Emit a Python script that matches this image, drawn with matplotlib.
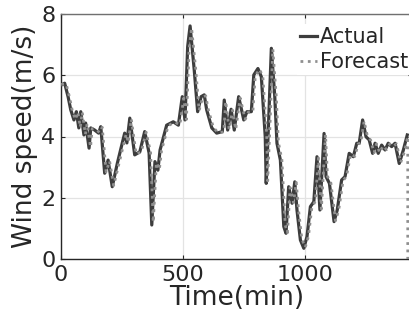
import matplotlib
matplotlib.use("Agg")
import matplotlib.pyplot as plt

# wind speed (minutes, m/s)
actual_min = [1, 15, 29, 40, 53, 63, 73, 81, 94, 101,
              115, 122, 138, 154, 163, 179, 193, 210, 231, 261,
              270, 282, 302, 323, 343, 361, 372, 385, 397, 406,
              433, 460, 481, 497, 508, 519, 529, 546, 560, 574,
              587, 597, 618, 638, 661, 669, 683, 697, 710, 728,
              749, 762, 780, 790, 807, 821, 837, 841, 851, 862,
              876, 885, 899, 913, 922, 933, 947, 958, 967, 981,
              995, 1008, 1022, 1036, 1049, 1061, 1078, 1086, 1100, 1119,
              1132, 1150, 1164, 1181, 1198, 1212, 1222, 1236, 1250, 1263,
              1277, 1287, 1300, 1314, 1328, 1341, 1355, 1369, 1386, 1403,
              1419]
actual = [5.68, 5.74, 5.30, 4.87, 4.54, 4.81, 4.28, 4.81, 4.05, 4.44,
          3.62, 4.28, 4.21, 4.11, 4.32, 2.80, 3.23, 2.36, 3.13, 4.11,
          3.79, 4.60, 3.40, 3.50, 4.16, 3.46, 1.11, 3.18, 2.90, 3.56,
          4.37, 4.48, 4.37, 5.30, 4.54, 6.93, 7.61, 6.17, 4.81, 5.30,
          5.36, 4.87, 4.28, 4.11, 4.16, 5.19, 4.21, 4.89, 4.21, 5.30,
          4.54, 4.81, 4.81, 6.01, 6.22, 5.95, 3.99, 2.47, 4.54, 6.88,
          5.30, 3.78, 3.23, 1.06, 0.84, 2.36, 1.82, 2.52, 1.60, 0.62,
          0.35, 0.73, 1.71, 1.87, 3.34, 1.60, 4.10, 2.69, 2.47, 1.22,
          1.60, 2.58, 2.69, 3.45, 3.34, 3.78, 3.78, 4.54, 3.99, 3.89,
          3.45, 3.78, 3.45, 3.72, 3.56, 3.78, 3.67, 3.78, 3.12, 3.56,
          4.05]

forecast_min = [1, 21, 35, 46, 59, 69, 79, 87, 100, 107,
                121, 128, 144, 160, 169, 185, 199, 216, 237, 267,
                276, 288, 308, 329, 349, 367, 378, 391, 403, 412,
                439, 466, 487, 503, 514, 525, 535, 552, 566, 580,
                593, 603, 624, 644, 667, 675, 689, 703, 716, 734,
                755, 768, 786, 796, 813, 827, 843, 847, 857, 868,
                882, 891, 905, 919, 928, 939, 953, 964, 973, 987,
                1001, 1014, 1028, 1042, 1055, 1067, 1084, 1092, 1106, 1125,
                1138, 1156, 1170, 1187, 1204, 1218, 1228, 1242, 1256, 1269,
                1283, 1293, 1306, 1320, 1334, 1347, 1361, 1375, 1392, 1409,
                1421, 1421]
forecast = [5.70, 5.72, 5.28, 4.85, 4.55, 4.80, 4.30, 4.79, 4.07, 4.42,
            3.65, 4.26, 4.22, 4.12, 4.30, 2.84, 3.20, 2.40, 3.10, 4.08,
            3.80, 4.57, 3.42, 3.50, 4.14, 3.48, 1.20, 3.15, 2.92, 3.54,
            4.35, 4.47, 4.38, 5.25, 4.56, 6.85, 7.55, 6.20, 4.85, 5.27,
            5.33, 4.90, 4.30, 4.12, 4.15, 5.15, 4.23, 4.86, 4.23, 5.26,
            4.56, 4.80, 4.80, 5.97, 6.20, 5.96, 4.05, 2.55, 4.50, 6.85,
            5.32, 3.80, 3.25, 1.10, 0.86, 2.33, 1.84, 2.50, 1.62, 0.65,
            0.38, 0.74, 1.69, 1.88, 3.30, 1.63, 4.06, 2.70, 2.48, 1.25,
            1.60, 2.56, 2.70, 3.43, 3.35, 3.76, 3.78, 4.50, 4.00, 3.88,
            3.47, 3.76, 3.47, 3.70, 3.57, 3.76, 3.68, 3.76, 3.15, 3.54,
            4.00, 0.0]

xticks = [0, 500, 1000]
yticks = [0, 2, 4, 6, 8]

W, H = 410, 326
fig = plt.figure(figsize=(W / 100, H / 100), dpi=100)
# right spine sits just past the image edge, as in the reference
ax = fig.add_axes([61 / W, 1 - 259 / H, (412.4 - 61) / W, (259 - 14) / H])

ax.plot(actual_min, actual, color="#3d3d3d", lw=2.3, label="Actual", zorder=3)
ax.plot(forecast_min, forecast, color="#8f8f8f", lw=2.0, ls=":", label="Forecast", zorder=4)

ax.set_xlim(0, 1440)
ax.set_ylim(0, 8)
ax.set_xticks(xticks)
ax.set_yticks(yticks)
ax.grid(True, color="#e3e3e3", lw=0.9)
ax.set_axisbelow(True)
ax.tick_params(direction="in", length=3, width=0.8, colors="#262626",
               labelsize=16, top=True, right=True, pad=4)
for s in ax.spines.values():
    s.set_color("#262626")
    s.set_linewidth(1.0)
ax.spines["top"].set_color("#707070")

ax.set_xlabel("Time(min)", fontsize=19, color="#262626", labelpad=0)
ax.set_ylabel("Wind speed(m/s)", fontsize=19, color="#262626", labelpad=2)

leg = ax.legend(loc="upper left", bbox_to_anchor=(297 / W, 1 - 24 / H),
                bbox_transform=fig.transFigure, fontsize=15, frameon=True,
                fancybox=False, edgecolor="none", facecolor="white", framealpha=1,
                handlelength=0.8, handletextpad=0.15, borderpad=0.15,
                labelspacing=0.25, borderaxespad=0)
for t in leg.get_texts():
    t.set_color("#262626")

fig.savefig("out.png", dpi=100)
